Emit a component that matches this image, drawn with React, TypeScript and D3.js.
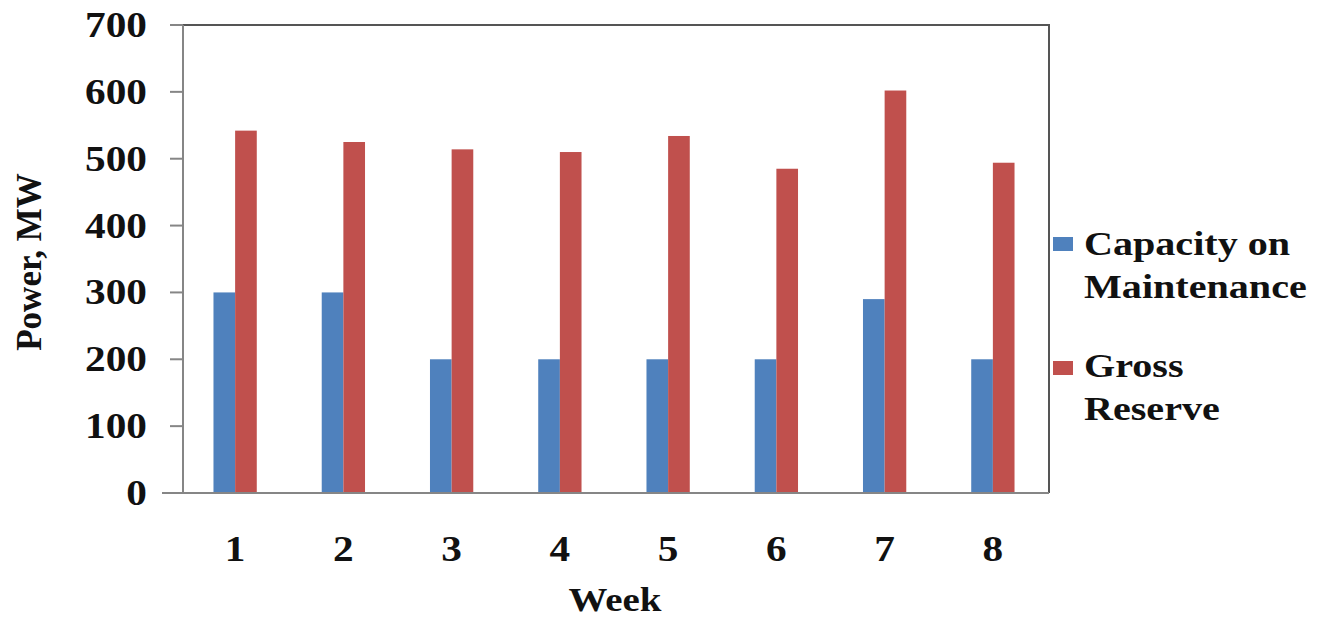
import React from "react";
import * as d3 from "d3";

const weeks = ["1", "2", "3", "4", "5", "6", "7", "8"];
const capacityOnMaintenance = [300, 300, 200, 200, 200, 200, 290, 200];
const grossReserve = [542, 525, 514, 510, 534, 485, 602, 494];
const yTicks = [0, 100, 200, 300, 400, 500, 600, 700];
const seriesNames = ["Capacity on Maintenance", "Gross Reserve"];
const legendLines = [["Capacity on", "Maintenance"], ["Gross", "Reserve"]];

const W = 1332;
const H = 619;
const left = 183;
const right = 1049;
const top = 25;
const bottom = 493;
const colors = ["#4F81BD", "#C0504D"];
const font = "'Liberation Serif', 'Times New Roman', serif";
const SX = 1.18;

function ST(props: { x: number; y: number; anchor?: string; size?: number; children: React.ReactNode }) {
  const { x, y, anchor = "start", size = 35, children } = props;
  return (
    <text
      transform={`translate(${x},${y}) scale(${SX},1)`}
      textAnchor={anchor}
      fontFamily={font}
      fontWeight="bold"
      fontSize={size}
      fill="#111"
    >
      {children}
    </text>
  );
}

export default function App() {
  const x = d3.scaleBand<string>().domain(weeks).range([left, right]).paddingInner(0.6).paddingOuter(0.3);
  const x1 = d3.scaleBand<string>().domain(seriesNames).range([0, x.bandwidth()]);
  const y = d3.scaleLinear().domain([0, 700]).range([bottom, top]);
  const series = [capacityOnMaintenance, grossReserve];
  const step = (right - left) / weeks.length;

  return (
    <svg width={W} height={H} style={{ position: "absolute", left: 0, top: 0, background: "#fff" }}>
      {/* bars */}
      {series.map((vals, si) =>
        vals.map((v, i) => (
          <rect
            key={`${si}-${i}`}
            x={(x(weeks[i]) as number) + (x1(seriesNames[si]) as number) - 2}
            y={y(v)}
            width={x1.bandwidth()}
            height={y(0) - y(v)}
            fill={colors[si]}
          />
        ))
      )}
      {/* plot border top/right */}
      <path d={`M${left},${top}H${right}V${bottom}`} fill="none" stroke="#555" strokeWidth={2} />
      {/* y axis */}
      <line x1={left} x2={left} y1={top} y2={bottom} stroke="#868686" strokeWidth={2} />
      {yTicks.map((t) => (
        <g key={t}>
          <line x1={170} x2={left} y1={y(t)} y2={y(t)} stroke="#868686" strokeWidth={2} />
          <ST x={147} y={y(t) + 12} anchor="end">
            {String(t)}
          </ST>
        </g>
      ))}
      {/* x axis */}
      <line x1={162} x2={right} y1={bottom} y2={bottom} stroke="#868686" strokeWidth={2} />
      {weeks.map((w, i) => (
        <ST key={w} x={left + step * (i + 0.5) - 2} y={561} anchor="middle">
          {w}
        </ST>
      ))}
      <ST x={615} y={611} anchor="middle" size={33}>
        Week
      </ST>
      {/* y title */}
      <text
        transform={`translate(41,262) rotate(-90)`}
        textAnchor="middle"
        fontFamily={font}
        fontWeight="bold"
        fontSize={35}
        fill="#111"
      >
        Power, MW
      </text>
      {/* legend */}
      {legendLines.map((lines, li) => (
        <g key={li}>
          <rect x={1053} y={li === 0 ? 237 : 361} width={20} height={14} fill={colors[li]} />
          {lines.map((ln, k) => (
            <ST key={k} x={1084} y={(li === 0 ? 255 : 377) + k * 43} size={34}>
              {ln}
            </ST>
          ))}
        </g>
      ))}
    </svg>
  );
}
